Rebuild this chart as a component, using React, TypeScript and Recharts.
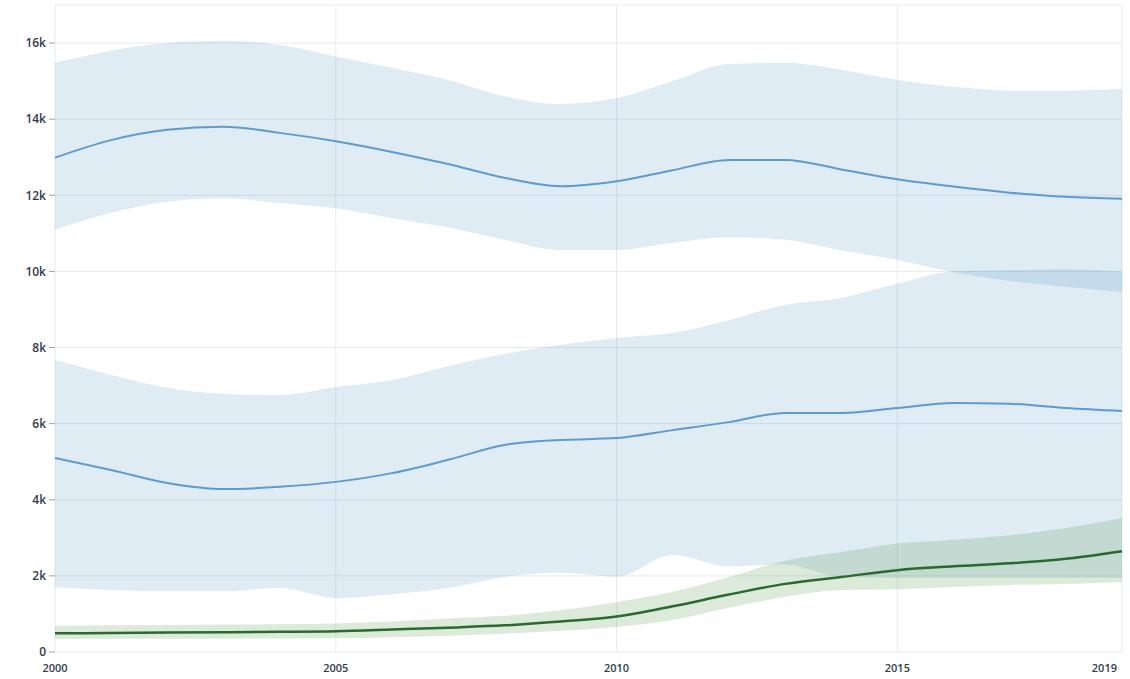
import React from 'react';
import { ComposedChart, Area, Line, XAxis, YAxis, CartesianGrid } from 'recharts';

const years = [2000, 2001, 2002, 2003, 2004, 2005, 2006, 2007, 2008, 2009, 2010, 2011, 2012, 2013, 2014, 2015, 2016, 2017, 2018, 2019];

const upperHigh = [15480, 15800, 16000, 16060, 15950, 15650, 15350, 15030, 14600, 14400, 14550, 15000, 15450, 15480, 15300, 15030, 14850, 14750, 14750, 14800];
const upperMid = [12990, 13450, 13720, 13800, 13640, 13420, 13140, 12820, 12460, 12240, 12370, 12660, 12930, 12930, 12680, 12420, 12230, 12070, 11960, 11910];
const upperLow = [11090, 11540, 11830, 11920, 11800, 11660, 11400, 11160, 10830, 10560, 10560, 10750, 10900, 10830, 10550, 10300, 9980, 9750, 9600, 9460];

const midHigh = [7670, 7280, 6940, 6780, 6750, 6960, 7150, 7510, 7830, 8070, 8250, 8380, 8720, 9120, 9300, 9680, 10000, 10030, 10060, 10000];
const midMid = [5100, 4780, 4440, 4280, 4340, 4470, 4700, 5050, 5440, 5570, 5620, 5830, 6040, 6280, 6280, 6410, 6540, 6520, 6410, 6330];
const midLow = [1700, 1630, 1600, 1600, 1680, 1420, 1520, 1680, 1970, 2080, 1980, 2550, 2250, 2300, 1970, 1950, 1950, 1950, 1950, 1950];

const greenHigh = [690, 700, 710, 720, 730, 750, 800, 880, 950, 1100, 1310, 1580, 1970, 2400, 2630, 2850, 2950, 3070, 3260, 3520];
const greenMid = [490, 500, 510, 520, 530, 545, 590, 640, 700, 800, 930, 1200, 1510, 1790, 1970, 2150, 2250, 2330, 2450, 2650];
const greenLow = [340, 345, 350, 350, 355, 360, 390, 430, 480, 560, 660, 840, 1160, 1450, 1630, 1650, 1710, 1760, 1790, 1840];

const xTicks = [2000, 2005, 2010, 2015, 2019];
const yTicks = [0, 2000, 4000, 6000, 8000, 10000, 12000, 14000, 16000];
const yTickLabels = ['0', '2k', '4k', '6k', '8k', '10k', '12k', '14k', '16k'];

const data = years.map((year, i) => ({
  year,
  upperBand: [upperLow[i], upperHigh[i]],
  upperMid: upperMid[i],
  midBand: [midLow[i], midHigh[i]],
  midMid: midMid[i],
  greenBand: [greenLow[i], greenHigh[i]],
  greenMid: greenMid[i],
}));

const FONT = '"Open Sans", sans-serif';
const TEXT = '#2f3b4c';

const XTick = (props: any) => {
  const { x, y, payload } = props;
  const last = payload.value === 2019;
  return (
    <text x={last ? x + 3 : x} y={y + 14} textAnchor={last ? 'end' : 'middle'} fill={TEXT} fontSize={11} fontFamily={FONT} fontWeight={600}>
      {payload.value}
    </text>
  );
};

const YTick = (props: any) => {
  const { x, y, payload } = props;
  const idx = yTicks.indexOf(payload.value);
  return (
    <text x={x} y={y} dy="0.355em" textAnchor="end" fill={TEXT} fontSize={12} fontFamily={FONT} fontWeight={600}>
      {idx >= 0 ? yTickLabels[idx] : String(payload.value)}
    </text>
  );
};

export default function App() {
  return (
    <div style={{ position: 'absolute', left: 0, top: 0, background: '#fff' }}>
      <ComposedChart width={1130} height={679} data={data} margin={{ top: 5, right: 8, bottom: 0, left: 0 }}>
        <CartesianGrid
          stroke="#e8eaee"
          horizontalValues={[...yTicks, 17000]}
          verticalValues={xTicks}
        />
        <XAxis
          dataKey="year"
          type="number"
          domain={[2000, 2019]}
          ticks={xTicks}
          axisLine={false}
          tickLine={false}
          height={27}
          tick={<XTick />}
          tickMargin={2}
          tickSize={4}
        />
        <YAxis
          type="number"
          domain={[0, 17000]}
          ticks={yTicks}
          width={55}
          axisLine={false}
          tickLine={{ stroke: '#9aa3ad' }}
          tickSize={6}
          tickMargin={3}
          tick={<YTick />}
        />
        <Area type="monotone" dataKey="upperBand" stroke="none" fill="#1f77b4" fillOpacity={0.14} isAnimationActive={false} dot={false} activeDot={false} />
        <Area type="monotone" dataKey="midBand" stroke="none" fill="#1f77b4" fillOpacity={0.14} isAnimationActive={false} dot={false} activeDot={false} />
        <Area type="monotone" dataKey="greenBand" stroke="none" fill="#4e9444" fillOpacity={0.2} isAnimationActive={false} dot={false} activeDot={false} />
        <Line type="monotone" dataKey="upperMid" stroke="#5e9bcf" strokeWidth={2} dot={false} activeDot={false} isAnimationActive={false} />
        <Line type="monotone" dataKey="midMid" stroke="#5e9bcf" strokeWidth={2} dot={false} activeDot={false} isAnimationActive={false} />
        <Line type="monotone" dataKey="greenMid" stroke="#2b6a2e" strokeWidth={2.5} dot={false} activeDot={false} isAnimationActive={false} />
      </ComposedChart>
    </div>
  );
}
